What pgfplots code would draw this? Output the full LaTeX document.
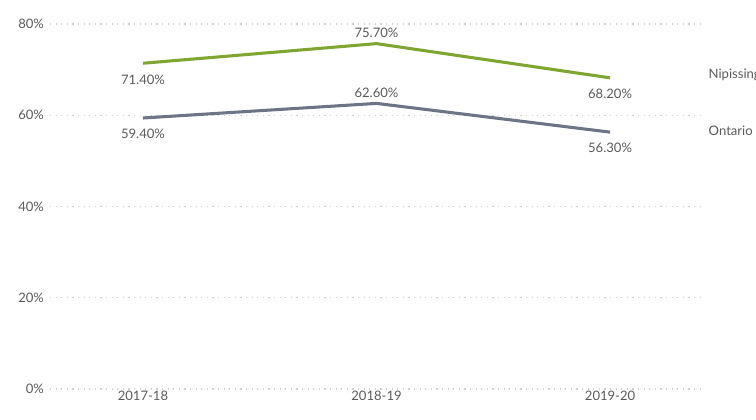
\documentclass[border=0pt]{standalone}
\usepackage{pgfplots}
\pgfplotsset{compat=1.18}
\usepackage{fontspec}
\setmainfont{Lato}
\definecolor{nipgreen}{HTML}{7FA631}
\definecolor{ontgray}{HTML}{6D7486}
\definecolor{txtgray}{HTML}{5A5A5A}
\definecolor{gridgray}{HTML}{CFCFCF}
\newcommand{\lf}{\fontsize{9.8}{11}\selectfont}
\begin{document}
\begin{tikzpicture}
\begin{axis}[
  scale only axis,
  width=487.5pt, height=273.75pt,
  xmin=-0.398, xmax=2.385,
  ymin=0, ymax=80,
  axis line style={draw=none},
  major tick length=0pt,
  xtick={0,1,2},
  xticklabels={2017-18,2018-19,2019-20},
  ytick={0,20,40,60,80},
  yticklabel={\pgfmathprintnumber{\tick}\%},
  /pgf/number format/assume math mode=true,
  ymajorgrids,
  grid style={gridgray, line width=0.9pt, dash pattern=on 0.9pt off 3.3pt},
  tick label style={font=\lf, text=txtgray},
  yticklabel style={xshift=-1pt},
  xticklabel style={yshift=2pt},
  clip=false,
]
\coordinate (bl) at (rel axis cs:0,0);
\addplot[nipgreen, line width=2.3pt, line join=round] coordinates {(0,71.4) (1,75.7) (2,68.2)};
\addplot[ontgray, line width=2.3pt, line join=round] coordinates {(0,59.4) (1,62.6) (2,56.3)};
\node[anchor=north, text=txtgray, font=\lf, yshift=-5pt] at (axis cs:0,71.4) {71.40\%};
\node[anchor=south, text=txtgray, font=\lf, yshift=1pt] at (axis cs:1,75.7) {75.70\%};
\node[anchor=north, text=txtgray, font=\lf, yshift=-5pt] at (axis cs:2,68.2) {68.20\%};
\node[anchor=north, text=txtgray, font=\lf, yshift=-5pt] at (axis cs:0,59.4) {59.40\%};
\node[anchor=south, text=txtgray, font=\lf, yshift=1pt] at (axis cs:1,62.6) {62.60\%};
\node[anchor=north, text=txtgray, font=\lf, yshift=-5pt] at (axis cs:2,56.3) {56.30\%};
\node[anchor=west, text=txtgray, font=\lf, xshift=3pt, yshift=2pt] at (axis cs:2.385,68.2) {Nipissing};
\node[anchor=west, text=txtgray, font=\lf, xshift=3pt, yshift=1pt] at (axis cs:2.385,56.3) {Ontario};
\end{axis}
\pgfresetboundingbox
\path[use as bounding box] (bl) ++(-37.5pt,-22.5pt) rectangle ++(567pt,314.25pt);
\end{tikzpicture}
\end{document}
